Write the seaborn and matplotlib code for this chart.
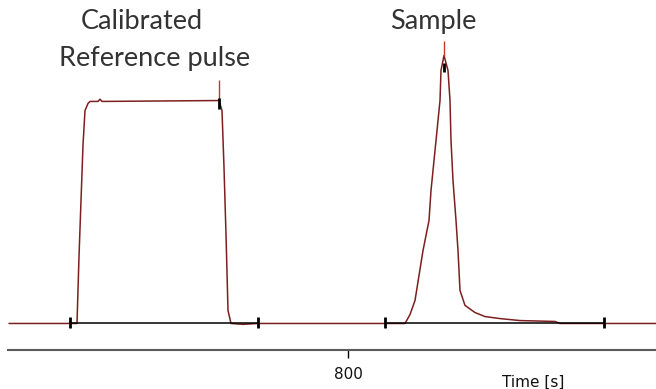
import matplotlib
matplotlib.use("Agg")
import matplotlib.pyplot as plt
import seaborn as sns
import pandas as pd

# detector trace (time in s, signal in arbitrary units)
time = [122, 244, 258, 262, 270, 274, 280, 284, 300, 304, 308, 540, 542, 548,
        552, 556, 560, 566, 590, 620, 874, 914, 924, 934, 950, 962, 966, 972,
        978, 984, 986, 992, 1000, 1004, 1006, 1010, 1016, 1020, 1024, 1034,
        1054, 1074, 1104, 1144, 1214, 1224, 1312, 1416]
signal = [0, 0, 0, 30, 80, 95.5, 98.7, 99.6, 99.6, 100.6, 99.6, 100, 100, 95.5,
          70, 40, 5.8, 0, -0.4, 0, 0, 0, 4, 10.3, 32.7, 46.2, 59.6, 73.1,
          86.5, 100, 113.5, 120.2, 113.5, 100, 82, 64.1, 46.2, 32.7, 14.8, 8.1,
          4.9, 3.1, 2.2, 1.3, 0.9, 0, 0, 0]

# peak markers
peak_x = [542, 992]
peak_top = [109.4, 126.9]
peak_tick_lo = [96, 113]
peak_tick_hi = [101, 117]

# integration baselines
base_start = [244, 874]
base_end = [620, 1312]

# annotations
labels = ["Calibrated", "Reference pulse", "Sample"]
label_x = [388, 414, 970]
label_y = [135.4, 118.8, 135.4]

red = "#7d1f1f"

sns.set_style("white")
fig = plt.figure(figsize=(6.56, 3.89), dpi=100)
ax = fig.add_axes([8 / 656, 39 / 389, 648 / 656, 350 / 389])

df = pd.DataFrame({"time": time, "signal": signal})
sns.lineplot(data=df, x="time", y="signal", sort=False, estimator=None,
             color=red, linewidth=1.1, ax=ax)

ax.vlines(peak_x, [100, 120.2], peak_top, color="#c0392b", linewidth=1.0)
ax.vlines(peak_x, peak_tick_lo, peak_tick_hi, color="black", linewidth=2.0)

for s, e in zip(base_start, base_end):
    ax.plot([s, e], [0, 0], color="black", linewidth=1.1)
ax.vlines(base_start + base_end, -2.2, 2.7, color="black", linewidth=2.0)

ax.set_xlim(120, 1416)
ax.set_ylim(-11.9, 145.1)

for sp in ["left", "top", "right"]:
    ax.spines[sp].set_visible(False)
ax.spines["bottom"].set_color("#5a5a5a")
ax.spines["bottom"].set_linewidth(1.5)
ax.set_yticks([])
ax.set_xticks([800])
ax.tick_params(axis="x", direction="out", length=5.5, width=1.0, color="black",
               pad=7, labelsize=11, labelcolor="#111111", bottom=True)
ax.set_ylabel("")
ax.set_xlabel("Time [s]", fontsize=11, color="#111111")
ax.xaxis.set_label_coords(0.81, -0.07)

for txt, x, y in zip(labels, label_x, label_y):
    ax.text(x, y, txt, ha="center", va="center", fontsize=19.5,
            family="Lato", color="#333333")

fig.savefig("out.png", dpi=100)
